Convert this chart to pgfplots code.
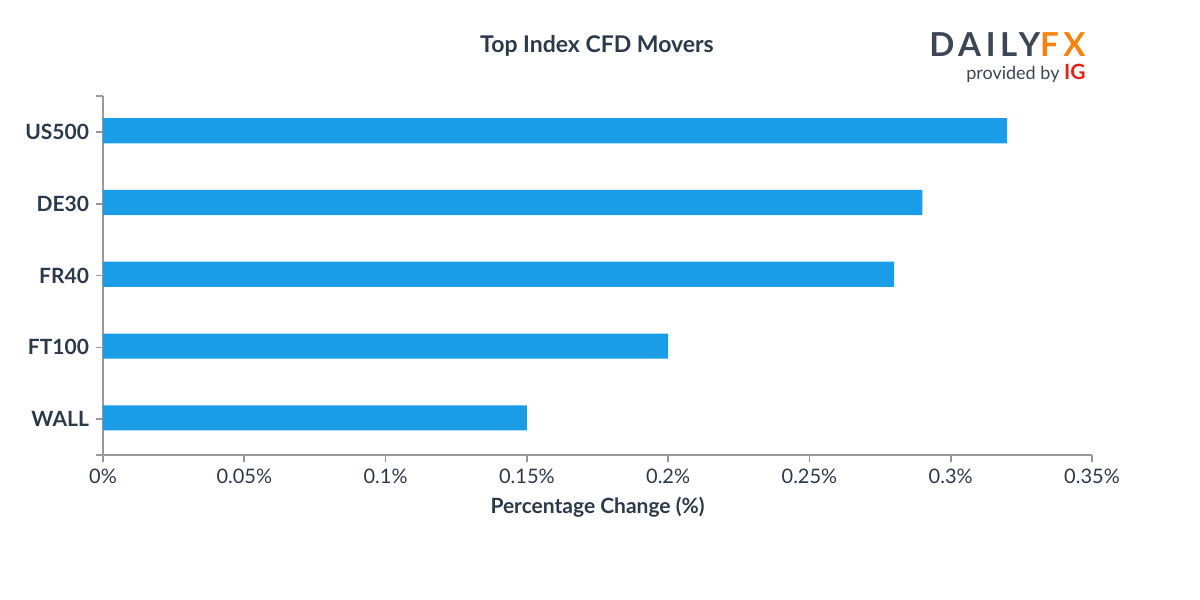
\documentclass[border=0pt]{standalone}
\usepackage{pgfplots}
\pgfplotsset{compat=1.18}
\usepackage{fontspec}
\setmainfont{Lato}
\definecolor{barblue}{HTML}{1A9DE6}
\definecolor{txt}{HTML}{2B3A4A}
\definecolor{axgray}{HTML}{9A9A9A}
\definecolor{dfxgray}{HTML}{3D4654}
\definecolor{dfxorange}{HTML}{F7820F}
\definecolor{igred}{HTML}{E2231A}

\begin{document}
\begin{tikzpicture}
% page frame: 1200x600 px at 0.5pt per px, origin top left
\path (0pt,0pt) rectangle (600pt,-300pt);

\begin{axis}[
    at={(51.5pt,-227.5pt)}, anchor=south west,
    scale only axis, width=494.5pt, height=179.5pt,
    xmin=0, xmax=0.35, ymin=-0.5, ymax=4.5,
    xbar, bar width=0.35,
    axis lines*=left,
    axis line style={axgray, line width=0.8pt},
    tick align=outside, major tick length=3.5pt,
    tick style={axgray, line width=0.8pt},
    xtick={0,0.05,0.1,0.15,0.2,0.25,0.3,0.35},
    xticklabels={0\%,0.05\%,0.1\%,0.15\%,0.2\%,0.25\%,0.3\%,0.35\%},
    ytick={0,1,2,3,4},
    yticklabels={WALL,FT100,FR40,DE30,US500},
    extra y ticks={-0.5,4.5}, extra y tick labels={},
    xticklabel style={font=\fontsize{10}{12}\selectfont, text=txt},
    yticklabel style={font=\bfseries\fontsize{10.5}{12}\selectfont, text=txt},
    xlabel={Percentage Change (\%)},
    xlabel style={font=\bfseries\fontsize{10.5}{12}\selectfont, text=txt},
]
\addplot[fill=barblue, draw=none, bar shift=0.6pt] coordinates {
    (0.15,0) (0.20,1) (0.28,2) (0.29,3) (0.32,4)
};
\end{axis}

\node[font=\bfseries\fontsize{11.5}{14}\selectfont, text=txt] at (298.5pt,-23pt) {Top Index CFD Movers};

% logo
\node[anchor=east, inner sep=0pt, font=\bfseries\fontsize{16.5}{18}\selectfont\addfontfeatures{LetterSpace=14}]
    at (543pt,-22.5pt) {\textcolor{dfxgray}{DAILY}\textcolor{dfxorange}{FX}};
\node[anchor=east, inner sep=0pt, font=\fontsize{9}{10}\selectfont]
    at (543pt,-36.5pt) {\textcolor{dfxgray}{provided by }\textcolor{igred}{\bfseries\fontsize{10.5}{10}\selectfont IG}};
\end{tikzpicture}
\end{document}
